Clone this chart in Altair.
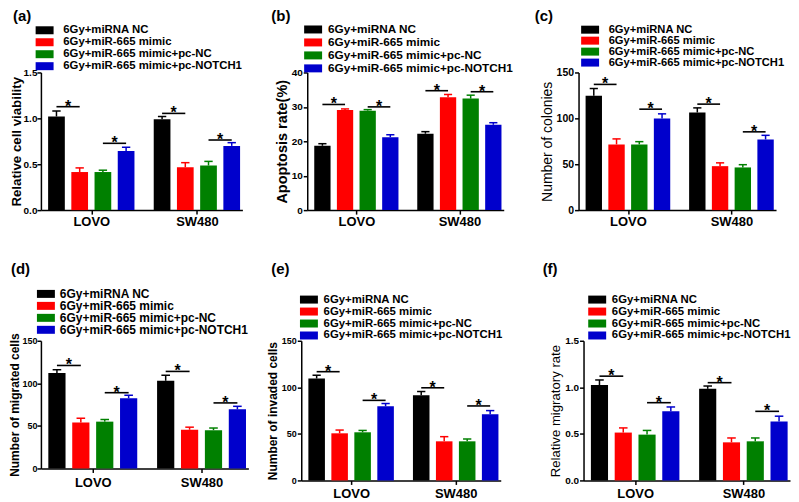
import altair as alt
import pandas as pd

groups = ["LOVO", "SW480"]
series = ["6Gy+miRNA NC", "6Gy+miR-665 mimic", "6Gy+miR-665 mimic+pc-NC",
          "6Gy+miR-665 mimic+pc-NOTCH1"]
colors = ["#000000", "#ff0000", "#008000", "#0000cc"]

# values ordered LOVO (4 series) then SW480 (4 series)
a_mean = [1.02, 0.415, 0.415, 0.645, 0.99, 0.467, 0.486, 0.70]
a_err = [0.06, 0.045, 0.02, 0.04, 0.03, 0.05, 0.045, 0.035]
a_sig = [1.127, 0.728, 1.054, 0.764]   # LOVO pair1, LOVO pair2, SW480 pair1, SW480 pair2

b_mean = [18.7, 29.1, 28.9, 21.2, 22.2, 32.8, 32.4, 24.8]
b_err = [0.6, 0.3, 0.3, 0.7, 0.6, 0.8, 1.0, 0.6]
b_sig = [30.7, 30.0, 34.7, 34.4]

c_mean = [124.5, 71.6, 71.6, 99.9, 106.4, 47.9, 46.5, 77.0]
c_err = [8.0, 6.0, 3.0, 5.0, 5.0, 3.6, 3.0, 4.5]
c_sig = [137.0, 110.0, 115.5, 85.3]

d_mean = [112.0, 54.0, 55.0, 82.5, 103.0, 45.5, 45.0, 69.5]
d_err = [4.0, 5.0, 2.5, 3.5, 6.5, 3.0, 2.5, 3.5]
d_sig = [121.0, 89.0, 114.0, 77.0]

e_mean = [109.5, 50.6, 51.7, 79.6, 91.5, 42.0, 42.0, 71.0]
e_err = [3.5, 3.5, 2.0, 3.0, 4.0, 5.0, 2.5, 4.0]
e_sig = [116.8, 86.0, 99.5, 80.0]

f_mean = [1.024, 0.514, 0.492, 0.742, 0.984, 0.409, 0.42, 0.633]
f_err = [0.055, 0.05, 0.045, 0.047, 0.03, 0.047, 0.036, 0.057]
f_sig = [1.12, 0.835, 1.05, 0.742]

GAP = 4.55
FONT = "Liberation Sans"

panels = [
    dict(tag="(a)", ytitle="Relative cell viability", ymax=1.5, yticks=[0, 0.5, 1.0, 1.5], fmt=".1f",
         mean=a_mean, err=a_err, sig=a_sig, w=202, h=138, dx=-28, off=1, tfs=13.3, tfw="bold",
         lfs=10, lx=-2, ly=-48, lgfs=11.4, lo=13, step=11.2, tp=0, lp=0, xlp=1),
    dict(tag="(b)", ytitle="Apoptosis rate(%)", ymax=40, yticks=[0, 10, 20, 30, 40], fmt="d",
         mean=b_mean, err=b_err, sig=b_sig, w=197, h=138, dx=-36, off=0, tfs=14.5, tfw="bold",
         lfs=10, lx=0, ly=-49, lgfs=11.8, lo=9, step=11.3, tp=2, lp=1, xlp=1),
    dict(tag="(c)", ytitle="Number of colonies", ymax=150, yticks=[0, 50, 100, 150], fmt="d",
         mean=c_mean, err=c_err, sig=c_sig, w=198, h=138, dx=-44, off=0.5, tfs=14, tfw="normal",
         lfs=10.5, lx=6, ly=-48.5, lgfs=11.2, lo=13, step=11.1, tp=2, lp=1, xlp=1),
    dict(tag="(d)", ytitle="Number of migrated cells", ymax=150, yticks=[0, 50, 100, 150], fmt="d",
         mean=d_mean, err=d_err, sig=d_sig, w=208, h=128, dx=-30, off=10.8, tfs=12, tfw="bold",
         lfs=9, lx=-1, ly=-53, lgfs=12, lo=8, step=11, tp=0, lp=0, xlp=4),
    dict(tag="(e)", ytitle="Number of invaded cells", ymax=150, yticks=[0, 50, 100, 150], fmt="d",
         mean=e_mean, err=e_err, sig=e_sig, w=200, h=140, dx=-30, off=17, tfs=12, tfw="bold",
         lfs=9, lx=2, ly=-47, lgfs=11.4, lo=9, step=11, tp=2, lp=1, xlp=3),
    dict(tag="(f)", ytitle="Relative migratory rate", ymax=1.5, yticks=[0, 0.5, 1.0, 1.5], fmt=".1f",
         mean=f_mean, err=f_err, sig=f_sig, w=207, h=140, dx=-41, off=17, tfs=13.2, tfw="normal",
         lfs=10, lx=8, ly=-47, lgfs=11.4, lo=9, step=11, tp=2, lp=1, xlp=3),
]

SYMBOL = "M-1.8,-0.8L1.8,-0.8L1.8,0.8L-1.8,0.8Z"


def make_panel(p):
    rows = []
    for gi, g in enumerate(groups):
        for si, s in enumerate(series):
            k = gi * 4 + si
            rows.append(dict(group=g, series=s, gi=gi, si=si, mean=p["mean"][k], err=p["err"][k]))
    bars = pd.DataFrame(rows)
    srows = []
    for gi, g in enumerate(groups):
        for pair in range(2):
            srows.append(dict(group=g, gi=gi, pair=pair, level=p["sig"][gi * 2 + pair]))
    sig = pd.DataFrame(srows)

    xscale = alt.Scale(domain=[-0.67, GAP + 3 + 0.46], nice=False, zero=False)
    yscale = alt.Scale(domain=[0, p["ymax"]], nice=False)
    xaxis = alt.Axis(values=[1.5, GAP + 1.5], labelExpr="datum.value < 3 ? 'LOVO' : 'SW480'",
                     title=None, grid=False, tickSize=4, labelFontSize=13, labelFontWeight="bold",
                     labelPadding=p["xlp"], labelFlush=False)
    yaxis = alt.Axis(values=p["yticks"], format=p["fmt"], title=p["ytitle"], grid=False, tickSize=4,
                     labelFontSize=p["lfs"], labelFontWeight="bold", labelPadding=p["lp"],
                     labelOverlap=False, labelFlush=False,
                     titleFontSize=p["tfs"], titleFontWeight=p["tfw"], titlePadding=p["tp"])
    legend = alt.Legend(title=None, orient="none", legendX=p["lx"], legendY=p["ly"],
                        symbolType=SYMBOL, symbolSize=100, symbolStrokeWidth=0,
                        labelFontSize=p["lgfs"], labelFontWeight="bold", labelOffset=p["lo"],
                        rowPadding=round(p["step"] - 1.2 * p["lgfs"], 2), padding=0, labelLimit=400)
    color = alt.Color("series:N", scale=alt.Scale(domain=series, range=colors), sort=series, legend=legend)
    stroke = alt.Stroke("series:N", scale=alt.Scale(domain=series, range=colors), legend=None)

    def X(f):
        return alt.X(f, scale=xscale, axis=xaxis)

    def Y(f):
        return alt.Y(f, scale=yscale, axis=yaxis)

    base = alt.Chart(bars).transform_calculate(
        pos=f"datum.gi * {GAP} + datum.si",
    ).transform_calculate(
        x0="datum.pos - 0.36", x1="datum.pos + 0.36",
        c0="datum.pos - 0.18", c1="datum.pos + 0.18",
        top="datum.mean + datum.err",
    )
    barl = base.mark_bar().encode(
        x=X("x0:Q"), x2="x1:Q", y=Y("mean:Q"), y2=alt.datum(0), color=color)
    errl = base.mark_rule(strokeWidth=1.5).encode(
        x=X("pos:Q"), y=Y("mean:Q"), y2="top:Q", stroke=stroke)
    capl = base.mark_rule(strokeWidth=1.5).encode(
        x=X("c0:Q"), x2="c1:Q", y=Y("top:Q"), stroke=stroke)

    sbase = alt.Chart(sig).transform_calculate(
        xa=f"datum.gi * {GAP} + datum.pair * 2",
    ).transform_calculate(xb="datum.xa + 1", xm="datum.xa + 0.5")
    sigl = sbase.mark_rule(color="black", strokeWidth=1.6).encode(
        x=X("xa:Q"), x2="xb:Q", y=Y("level:Q"))
    star = sbase.mark_text(text="*", fontSize=16, fontWeight="bold", baseline="alphabetic", dy=5,
                           color="black").encode(x=X("xm:Q"), y=Y("level:Q"))

    return alt.layer(barl, errl, capl, sigl, star).properties(
        width=p["w"], height=p["h"],
        title=alt.TitleParams(text=p["tag"], anchor="start", frame="group", dx=p["dx"],
                              offset=p["off"], fontSize=15, fontWeight="bold"),
    )


pp = [make_panel(p) for p in panels]
row1a = alt.hconcat(pp[0], pp[1], spacing=29).resolve_scale(color="independent")
row1 = alt.hconcat(row1a, pp[2], spacing=21).resolve_scale(color="independent")
row2a = alt.hconcat(pp[3], pp[4], spacing=17).resolve_scale(color="independent")
row2 = alt.hconcat(row2a, pp[5], spacing=40).resolve_scale(color="independent")
chart = alt.vconcat(row1, row2, spacing=34).resolve_scale(color="independent").properties(
    padding=0, background="white"
).configure(font=FONT).configure_view(stroke=None).configure_axis(
    domainColor="black", domainWidth=1.5, tickColor="black", tickWidth=1.5,
    labelColor="black", titleColor="black", labelFont=FONT, titleFont=FONT,
).configure_legend(labelColor="black", labelFont=FONT).configure_title(font=FONT, color="black")

chart.save("out.html", embed_options={"renderer": "svg", "actions": False})
